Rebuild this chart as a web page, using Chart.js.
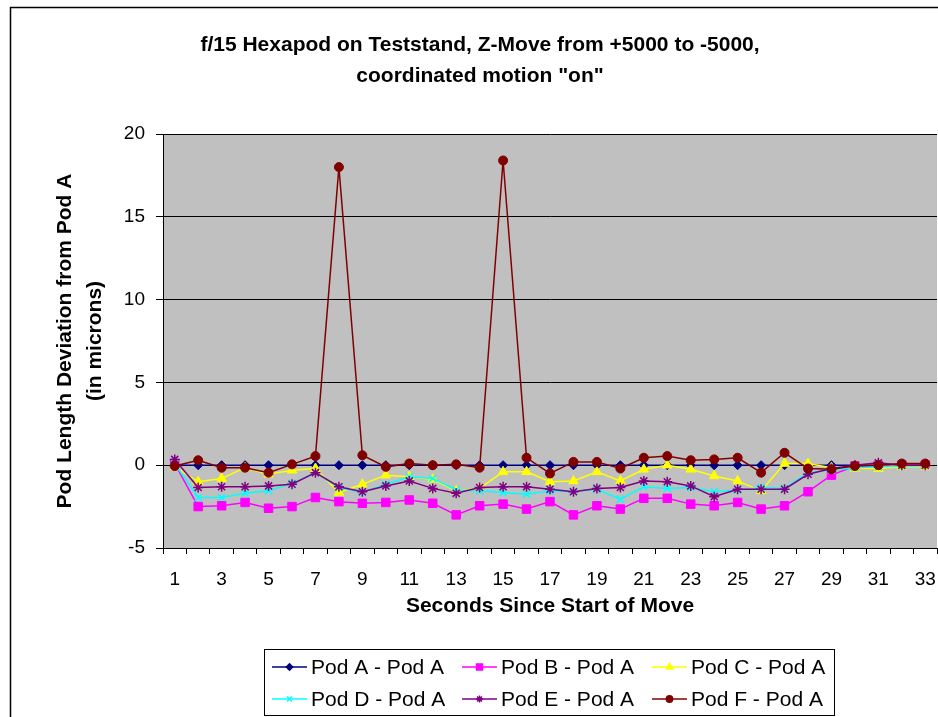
<!DOCTYPE html>
<html>
<head>
<meta charset="utf-8">
<script src="https://cdn.jsdelivr.net/npm/chart.js"></script>
<style>
  html, body { margin: 0; padding: 0; background: #fff; }
  #wrap { width: 938px; height: 717px; }
</style>
</head>
<body>
<div id="wrap"><canvas id="hexapod-chart" width="938" height="717"></canvas></div>
<script>
// Seconds since start of move (x categories)
const seconds = [1, 2, 3, 4, 5, 6, 7, 8, 9, 10, 11, 12, 13, 14, 15, 16, 17,
  18, 19, 20, 21, 22, 23, 24, 25, 26, 27, 28, 29, 30, 31, 32, 33];

// Pod length deviation from Pod A (microns)
const podA = [0, 0, 0, 0, 0, 0, 0, 0, 0, 0, 0, 0, 0, 0, 0, 0, 0,
  0, 0, 0, 0, 0, 0, 0, 0, 0, 0, 0, 0, 0, 0, 0, 0];
const podB = [0.1, -2.5, -2.45, -2.25, -2.6, -2.5, -1.95, -2.2, -2.3, -2.25, -2.1, -2.3, -3.0, -2.45, -2.35, -2.65, -2.2,
  -3.0, -2.45, -2.65, -2.0, -2.0, -2.35, -2.45, -2.25, -2.65, -2.45, -1.6, -0.6, -0.05, 0, 0, 0];
const podC = [-0.1, -1.0, -0.8, -0.15, -0.55, -0.3, -0.2, -1.65, -1.15, -0.6, -0.7, -0.85, -1.55, -1.4, -0.4, -0.4, -1.0,
  -0.95, -0.4, -0.95, -0.25, 0, -0.25, -0.65, -0.95, -1.55, 0.1, 0.1, -0.15, -0.2, -0.2, -0.1, -0.1];
const podD = [0.1, -1.95, -1.95, -1.7, -1.55, -1.1, -0.45, -1.35, -1.65, -1.15, -0.7, -0.8, -1.5, -1.55, -1.65, -1.75, -1.55,
  -1.6, -1.45, -2.05, -1.3, -1.4, -1.35, -1.6, -1.5, -1.35, -1.4, -0.45, -0.3, -0.15, -0.1, -0.05, -0.05];
const podE = [0.35, -1.35, -1.3, -1.3, -1.25, -1.15, -0.45, -1.3, -1.6, -1.25, -0.95, -1.4, -1.7, -1.35, -1.3, -1.3, -1.45,
  -1.6, -1.4, -1.35, -0.95, -1.0, -1.25, -1.9, -1.45, -1.45, -1.45, -0.55, -0.2, 0, 0.15, 0, 0];
const podF = [-0.05, 0.3, -0.15, -0.15, -0.45, 0.05, 0.55, 18.0, 0.6, -0.1, 0.1, 0, 0.05, -0.15, 18.4, 0.45, -0.5,
  0.2, 0.2, -0.2, 0.45, 0.55, 0.3, 0.35, 0.45, -0.45, 0.75, -0.2, -0.25, -0.05, 0, 0.1, 0.1];

const seriesNames = ["Pod A - Pod A", "Pod B - Pod A", "Pod C - Pod A",
  "Pod D - Pod A", "Pod E - Pod A", "Pod F - Pod A"];
const seriesData = [podA, podB, podC, podD, podE, podF];
const seriesColors = ["#000080", "#ff00ff", "#ffff00", "#00ffff", "#800080", "#800000"];
const seriesMarkers = ["rectRot", "rect", "triangle", "crossRot", "star", "circle"];
const markerSizes = [4.5, 6, 5.5, 5, 5, 4.5];

const chartTitle = ["f/15 Hexapod on Teststand, Z-Move from +5000 to -5000,", "coordinated motion \"on\""];

const FONT = "'Liberation Sans', Arial, sans-serif";

// white frame with the black border of the chart object
const framePlugin = {
  id: "frame",
  beforeDraw(chart) {
    const ctx = chart.ctx;
    const a = chart.chartArea;
    ctx.save();
    ctx.fillStyle = "#fff";
    ctx.fillRect(0, 0, chart.width, chart.height);
    ctx.strokeStyle = "#000";
    ctx.lineWidth = 1.5;
    ctx.strokeRect(10.5, 7.5, 1000, 1000);
    // grey plot area
    ctx.fillStyle = "#c0c0c0";
    ctx.fillRect(a.left, a.top, a.right - a.left, a.bottom - a.top);
    ctx.restore();
  },
  afterDraw(chart) {
    // title is centred on the whole Excel frame, which runs past the picture
    const ctx = chart.ctx;
    ctx.save();
    ctx.fillStyle = "#000";
    ctx.font = "bold 21px " + FONT;
    ctx.textAlign = "center";
    ctx.textBaseline = "middle";
    chartTitle.forEach((line, i) => ctx.fillText(line, 480, 45 + i * 31));
    ctx.restore();
  }
};

// Excel style legend box: 3 columns, 2 rows, line with marker
const legendPlugin = {
  id: "boxLegend",
  afterDraw(chart) {
    const ctx = chart.ctx;
    ctx.save();
    ctx.strokeStyle = "#000";
    ctx.lineWidth = 1;
    ctx.strokeRect(264.5, 649.5, 570, 66);
    ctx.font = "21px " + FONT;
    ctx.textBaseline = "middle";
    ctx.textAlign = "left";
    chart.data.datasets.forEach((ds, i) => {
      const x = 272 + (i % 3) * 190;
      const y = 667 + Math.floor(i / 3) * 32;
      ctx.strokeStyle = ds.borderColor;
      ctx.lineWidth = 1.5;
      ctx.beginPath();
      ctx.moveTo(x, y);
      ctx.lineTo(x + 35, y);
      ctx.stroke();
      ctx.fillStyle = ds.backgroundColor;
      Chart.helpers.drawPoint(ctx, {
        pointStyle: ds.pointStyle, radius: ds.pointRadius * 0.7, rotation: 0, borderWidth: 1.5
      }, x + 17.5, y);
      ctx.fillStyle = "#000";
      ctx.fillText(seriesNames[i], x + 39, y + 1);
    });
    ctx.restore();
  }
};

const ctx = document.getElementById("hexapod-chart").getContext("2d");

window.chartInstance = new Chart(ctx, {
  type: "line",
  data: {
    labels: seconds,
    datasets: seriesData.map((vals, i) => ({
      label: seriesNames[i],
      data: vals,
      borderColor: seriesColors[i],
      backgroundColor: seriesColors[i],
      pointBorderColor: seriesColors[i],
      pointBackgroundColor: seriesColors[i],
      pointStyle: seriesMarkers[i],
      pointRadius: markerSizes[i],
      pointBorderWidth: i === 3 || i === 4 ? 1.5 : 1,
      borderWidth: 1.5,
      tension: 0,
      fill: false,
      order: 5 - i
    }))
  },
  options: {
    responsive: false,
    animation: false,
    layout: { autoPadding: false, padding: { top: 134, left: 0, right: 1, bottom: 0 } },
    plugins: {
      legend: { display: false },
      tooltip: { enabled: false },
      title: { display: false }
    },
    scales: {
      x: {
        type: "category",
        offset: true,
        afterFit(scale) {
          scale.height = 169;
          scale.paddingLeft = 0;
          scale.paddingRight = 0;
        },
        grid: {
          drawOnChartArea: false,
          drawTicks: true,
          tickLength: 6,
          offset: true,
          color: "#000"
        },
        border: { color: "#000", width: 1 },
        ticks: {
          autoSkip: false,
          maxRotation: 0,
          color: "#000",
          padding: 14,
          font: { family: FONT, size: 19 },
          callback: function (value, index) {
            return index % 2 === 0 ? this.getLabelForValue(value) : "";
          }
        },
        title: {
          display: true,
          text: "Seconds Since Start of Move",
          color: "#000",
          font: { family: FONT, size: 21, weight: "bold", lineHeight: 1.2 },
          padding: { top: 0, bottom: 98 }
        }
      },
      y: {
        min: -5,
        max: 20,
        afterFit(scale) { scale.width = 163; },
        grid: { color: "#000", lineWidth: 1, tickLength: 7 },
        border: { color: "#000", width: 1 },
        ticks: {
          stepSize: 5,
          color: "#000",
          padding: 11,
          font: { family: FONT, size: 19 }
        },
        title: {
          display: true,
          text: ["Pod Length Deviation from Pod A", "(in microns)"],
          color: "#000",
          font: { family: FONT, size: 21, weight: "bold", lineHeight: 1.45 },
          padding: { top: 50, bottom: 0 }
        }
      }
    }
  },
  plugins: [framePlugin, legendPlugin]
});
</script>
</body>
</html>
